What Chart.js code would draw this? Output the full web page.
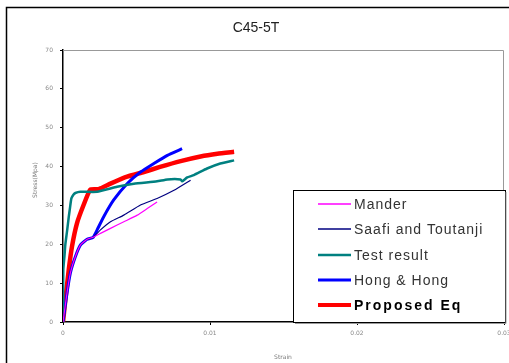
<!DOCTYPE html>
<html><head><meta charset="utf-8">
<script src="https://cdn.jsdelivr.net/npm/chart.js@4"></script>
<style>html,body{margin:0;padding:0;background:#fff}#wrap{position:relative;width:509px;height:363px}</style>
</head><body><div id="wrap"><canvas id="c" width="509" height="363"></canvas></div>
<script>
const title = "C45-5T";
const xTitle = "Strain";
const yTitle = "Stress(Mpa)";
const xTicks = [0, 0.01, 0.02, 0.03];
const yTicks = [0, 10, 20, 30, 40, 50, 60, 70];

const manderX = [0, 0.00027, 0.0005, 0.00084, 0.00118, 0.00164, 0.00205, 0.00255, 0.00323, 0.00414, 0.00505, 0.00573, 0.0064];
const manderY = [0, 7.4, 12.6, 16.8, 19.8, 21.3, 21.8, 22.8, 24.1, 25.8, 27.5, 29.2, 30.9];

const saafiX = [0, 0.00027, 0.0005, 0.00084, 0.00118, 0.00164, 0.00205, 0.00255, 0.00323, 0.00414, 0.00527, 0.0064, 0.00755, 0.00868];
const saafiY = [0, 7.4, 12.6, 16.8, 19.8, 21.3, 21.8, 23.7, 25.8, 27.5, 30.1, 31.8, 33.9, 36.5];

const testX = [0, 0.00002, 0.0001, 0.00016, 0.00028, 0.00039, 0.00048, 0.00057, 0.00072, 0.00084, 0.00118, 0.00232, 0.00368, 0.00482, 0.0064, 0.0071, 0.008, 0.0081, 0.00845, 0.0089, 0.0098, 0.0107, 0.01164];
const testY = [0, 13.5, 17, 20, 23.5, 27, 29.5, 31.8, 32.8, 33.2, 33.5, 33.5, 34.8, 35.6, 36.2, 36.7, 36.7, 36.2, 37.2, 37.8, 39.5, 40.8, 41.6];

const hongX = [0, 0.00027, 0.0005, 0.00084, 0.00118, 0.00164, 0.00205, 0.00232, 0.00277, 0.00345, 0.00436, 0.00527, 0.00618, 0.0071, 0.0081];
const hongY = [0, 7.4, 12.6, 16.8, 19.8, 21.3, 21.8, 23.7, 27.1, 31.4, 35.6, 38.6, 40.8, 42.9, 44.6];

const propX = [0, 0.00016, 0.00039, 0.00061, 0.00095, 0.0014, 0.00186, 0.00243, 0.00323, 0.00436, 0.0055, 0.0066, 0.008, 0.00936, 0.0105, 0.01164];
const propY = [0, 5.7, 13.4, 19.4, 25.4, 30.1, 34.1, 34.2, 35.6, 37.4, 38.6, 39.9, 41.4, 42.6, 43.3, 43.8];

const series = [
  {label: "Mander", xs: manderX, ys: manderY, color: "#ff00ff", width: 1.2, bold: false},
  {label: "Saafi and Toutanji", xs: saafiX, ys: saafiY, color: "#000080", width: 1.2, bold: false},
  {label: "Test result", xs: testX, ys: testY, color: "#008080", width: 2.5, bold: false},
  {label: "Hong & Hong", xs: hongX, ys: hongY, color: "#0000ff", width: 3, bold: false},
  {label: "Proposed Eq", xs: propX, ys: propY, color: "#ff0000", width: 4.5, bold: true}
];

const datasets = series.map(s => ({
  label: s.label,
  data: s.xs.map((x, i) => ({x: x, y: s.ys[i]})),
  borderColor: s.color, backgroundColor: s.color,
  borderWidth: s.width, pointRadius: 0, showLine: true, tension: 0.15, fill: false
}));

const decor = {
  id: 'decor',
  afterDraw(chart) {
    const ctx = chart.ctx, a = chart.chartArea;
    ctx.save();
    ctx.strokeStyle = '#000'; ctx.lineWidth = 1.5;
    ctx.strokeRect(6.5, 7.5, 520, 380);
    ctx.strokeStyle = '#999'; ctx.lineWidth = 1;
    ctx.beginPath(); ctx.moveTo(a.left, a.top + 0.5); ctx.lineTo(a.right - 0.5, a.top + 0.5); ctx.lineTo(a.right - 0.5, a.bottom); ctx.stroke();
    ctx.fillStyle = '#222'; ctx.font = '14px "Liberation Sans", Arial, sans-serif';
    ctx.textAlign = 'center'; ctx.textBaseline = 'middle';
    ctx.fillText(title, 256, 28);
    ctx.fillStyle = '#777'; ctx.font = '6px "DejaVu Sans", sans-serif';
    ctx.fillText(xTitle, 283, 357);
    ctx.translate(35, 180); ctx.rotate(-Math.PI / 2);
    ctx.fillText(yTitle, 0, 0);
    ctx.restore();
    ctx.save();
    const lx = 293, ly = 190, lw = 212, lh = 132;
    ctx.fillStyle = '#fff'; ctx.fillRect(lx, ly, lw, lh);
    ctx.strokeStyle = '#000'; ctx.lineWidth = 1;
    ctx.strokeRect(lx + 0.5, ly + 0.5, lw, lh);
    ctx.strokeStyle = '#999';
    ctx.beginPath(); ctx.moveTo(lx + lw + 1, ly + 2); ctx.lineTo(lx + lw + 1, ly + lh + 1.5); ctx.lineTo(lx + 2, ly + lh + 1.5); ctx.stroke();
    const rows = [204, 229, 255, 280, 305];
    series.forEach((s, i) => {
      const y = rows[i];
      ctx.strokeStyle = s.color; ctx.lineWidth = Math.max(1.3, Math.min(s.width, 4));
      ctx.beginPath(); ctx.moveTo(318, y); ctx.lineTo(351, y); ctx.stroke();
      ctx.fillStyle = s.bold ? '#000' : '#333';
      ctx.font = (s.bold ? 'bold ' : '') + '14px "Liberation Sans", Arial, sans-serif';
      ctx.letterSpacing = s.bold ? '2px' : '1px';
      ctx.textAlign = 'left'; ctx.textBaseline = 'middle';
      ctx.fillText(s.label, 354, y + 1);
    });
    ctx.restore();
  }
};

new Chart(document.getElementById('c'), {
  type: 'scatter',
  data: {datasets},
  options: {
    responsive: false, animation: false,
    layout: {padding: {top: 50, right: 0, left: 0, bottom: 0}},
    plugins: {legend: {display: false}, title: {display: false}, tooltip: {enabled: false}},
    scales: {
      x: {
        type: 'linear', min: 0, max: 0.03,
        afterBuildTicks(s) { s.ticks = xTicks.map(v => ({value: v})); },
        afterFit(s) { s.height = 41; s.paddingRight = 5; s.paddingLeft = 0; },
        grid: {display: true, drawOnChartArea: false, drawTicks: true, tickLength: 3, color: '#000'},
        border: {color: '#000', width: 1.5},
        ticks: {color: '#888', font: {size: 6, family: 'DejaVu Sans'}, padding: 5, maxRotation: 0,
          callback: v => String(v)}
      },
      y: {
        type: 'linear', min: 0, max: 70,
        afterBuildTicks(s) { s.ticks = yTicks.map(v => ({value: v})); },
        afterFit(s) { s.width = 63; },
        grid: {display: true, drawOnChartArea: false, drawTicks: true, tickLength: 3, color: '#000'},
        border: {color: '#000', width: 1.5},
        ticks: {color: '#888', font: {size: 6, family: 'DejaVu Sans'}, padding: 7}
      }
    }
  },
  plugins: [decor]
});
</script></body></html>
